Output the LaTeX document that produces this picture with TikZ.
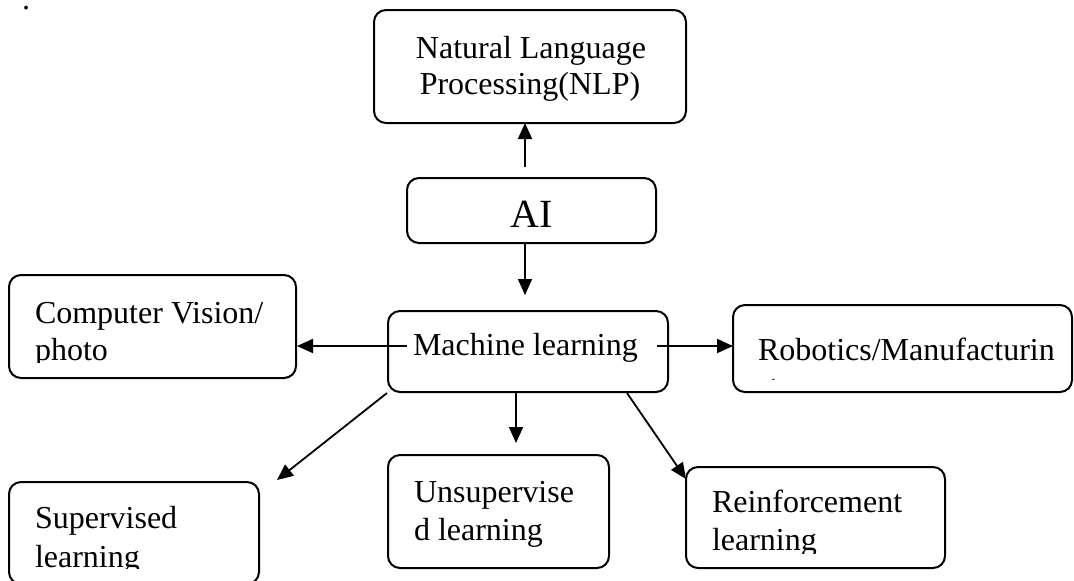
\documentclass[tikz,border=0pt]{standalone}
\usepackage{fontspec}
\setmainfont{Liberation Serif}
\usetikzlibrary{calc,arrows.meta}
\begin{document}
\begin{tikzpicture}[x=0.5pt,y=-0.5pt,
  box/.style={draw, line width=1pt, rounded corners=6pt, rectangle, inner sep=0pt, outer sep=0pt, fill=white},
  txt/.style={anchor=base west, inner sep=0pt, outer sep=0pt, font=\fontsize{16pt}{19pt}\selectfont},
  ctxt/.style={anchor=base, inner sep=0pt, outer sep=0pt, font=\fontsize{16pt}{19pt}\selectfont},
  arr/.style={line width=0.9pt, -{Triangle[length=8pt,width=7pt]}}]
\useasboundingbox (0,0) rectangle (1074,580);
% boxes
\node[box, minimum width=156pt, minimum height=56.5pt] (nlp) at (530,66.5) {};
\node[box, minimum width=124.5pt, minimum height=32.5pt] (ai) at (531.5,210.5) {};
\node[box, minimum width=140pt, minimum height=40.5pt] (ml) at (528,351.5) {};
\node[box, minimum width=143.5pt, minimum height=51.5pt] (cv) at (152.5,326.5) {};
\node[box, minimum width=169.5pt, minimum height=43.5pt] (rob) at (902.5,348.5) {};
\node[box, minimum width=110.5pt, minimum height=56.5pt] (uns) at (498.5,511.5) {};
\node[box, minimum width=125pt, minimum height=51pt] (sup) at (134,533) {};
\node[box, minimum width=129.5pt, minimum height=50.5pt] (rei) at (815.5,517.5) {};
% texts
\node[txt, text height=2pt, text depth=0pt] (dot) at (22,9) {.};
\node[ctxt] (nlp1) at (531,58) {Natural Language};
\node[ctxt] (nlp2) at (530,94) {Processing(NLP)};
\node[anchor=base, inner sep=0pt, font=\fontsize{20pt}{24pt}\selectfont] (ait) at (532,227) {AI};
\node[txt] (mlt) at (413,355) {Machine learning};
\node[txt] (cv1) at (35,323) {Computer Vision/};
\begin{scope}
\clip (cv.north west) rectangle (cv.east |- 0,362);
\node[txt] (cv2) at (35,360) {photo};
\end{scope}
\node[txt] (rob1) at (758,360) {Robotics/Manufacturin};
\begin{scope}
\clip (rob.north west) rectangle (rob.east |- 0,379);
\node[txt] (rob2) at (760,395) {g};
\end{scope}
\node[txt] (uns1) at (414,502) {Unsupervise};
\node[txt] (uns2) at (414,540) {d learning};
\node[txt] (sup1) at (35,528) {Supervised};
\begin{scope}
\clip (sup.north west) rectangle (sup.east |- 0,568);
\node[txt] (sup2) at (35,567) {learning};
\end{scope}
\node[txt] (rei1) at (712,512) {Reinforcement};
\begin{scope}
\clip (rei.north west) rectangle (rei.east |- 0,553);
\node[txt] (rei2) at (712,550) {learning};
\end{scope}
% connectors
\draw[arr] ($(ai.north)+(-6.5,-11)$) -- ($(nlp.south)+(-5,0)$);
\draw[arr] ($(ai.south)+(-6.5,0)$) -- ($(ml.north)+(-3,-16)$);
\draw[arr] ($(ml.west)+(19,-5.5)$) -- ($(cv.east)+(1,19.5)$);
\draw[arr] ($(ml.east)+(-11,-5.5)$) -- ($(rob.west)+(0,-2.5)$);
\draw[arr] ($(ml.south)+(-12,0)$) -- ($(uns.north)+(17.5,-12)$);
\draw[arr] ($(ml.south west)+(-1,1)$) -- ($(sup.north east)+(18,-2)$);
\draw[arr] ($(ml.south)+(99,1)$) -- ($(rei.north west)+(0,12)$);
\end{tikzpicture}
\end{document}
